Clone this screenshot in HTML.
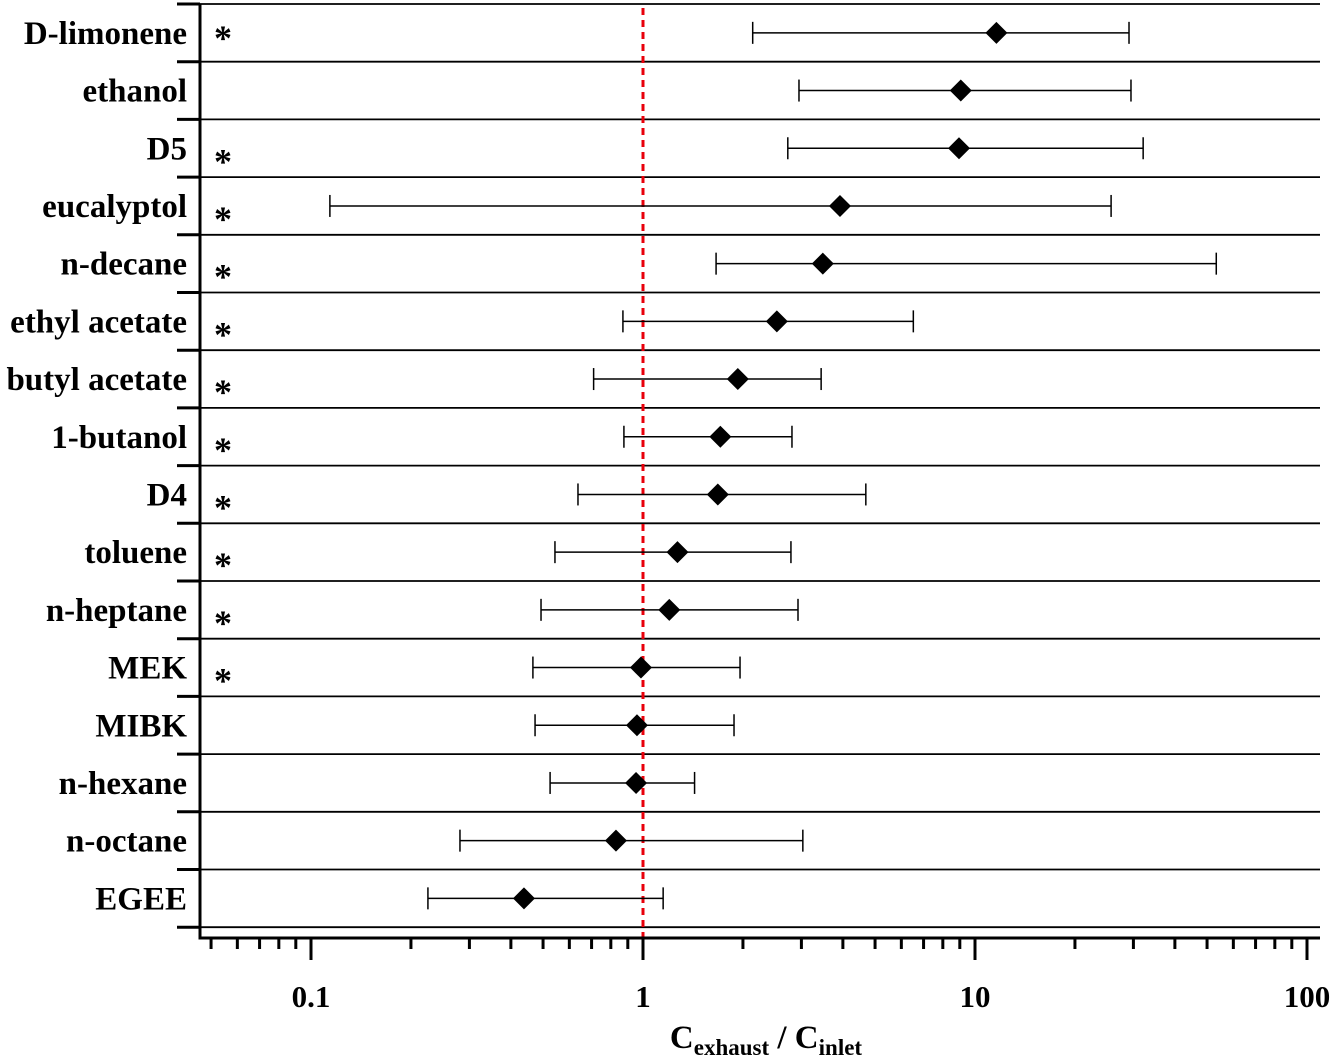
<!DOCTYPE html>
<html><head><meta charset="utf-8"><style>
html,body{margin:0;padding:0;background:#fff;}
svg{display:block;font-family:"Liberation Serif",serif;font-weight:bold;}
</style></head><body>
<svg id="chart" width="1335" height="1059" viewBox="0 0 1335 1059" xmlns="http://www.w3.org/2000/svg">
<g id="grid"></g><g id="marks"></g><g id="axes"></g>
<text x="766" y="1048" text-anchor="middle" font-size="33">C<tspan font-size="23" dy="7">exhaust</tspan><tspan dy="-7"> / C</tspan><tspan font-size="23" dy="7">inlet</tspan></text>
</svg>
<script>
const compounds=["D-limonene","ethanol","D5","eucalyptol","n-decane","ethyl acetate","butyl acetate","1-butanol","D4","toluene","n-heptane","MEK","MIBK","n-hexane","n-octane","EGEE"];
const centers=[11.6,9.06,8.95,3.92,3.48,2.53,1.93,1.71,1.68,1.27,1.20,0.986,0.959,0.953,0.829,0.438];
const lows=[2.14,2.95,2.73,0.114,1.66,0.87,0.71,0.876,0.637,0.543,0.493,0.466,0.473,0.525,0.281,0.225];
const highs=[29.1,29.5,32.1,25.7,53.3,6.52,3.44,2.81,4.69,2.79,2.93,1.96,1.88,1.43,3.03,1.15];
const significant=[1,0,1,1,1,1,1,1,1,1,1,1,0,0,0,0];
const tickLabels=["0.1","1","10","100"];
const tickValues=[0.1,1,10,100];
const NS="http://www.w3.org/2000/svg";
const X0=200,X1=1320,TOP=4,ROWH=57.7,AXY=938;
function xs(v){return 643+332*Math.log10(v);}
function ys(i){return TOP+ROWH*(i+0.5);}
function mk(tag,attrs,parent){const e=document.createElementNS(NS,tag);for(const k in attrs)e.setAttribute(k,attrs[k]);parent.appendChild(e);return e;}
const grid=document.getElementById('grid'),marks=document.getElementById('marks'),axes=document.getElementById('axes');
for(let i=0;i<=compounds.length;i++){
  const y=TOP+ROWH*i;
  const l=mk('line',{x1:X0,x2:X1,y1:y,y2:y,stroke:'#000','stroke-width':1.8},grid);
  
  
  const t=mk('line',{x1:177,x2:X0,y1:y,y2:y,stroke:'#000','stroke-width':3},axes);
  
  
}
const ref=mk('line',{x1:xs(1),x2:xs(1),y1:TOP+4,y2:AXY,stroke:'#e8000b','stroke-width':3,'stroke-dasharray':'7,5'},grid);


compounds.forEach((c,i)=>{
  const y=ys(i);
  const lab=mk('text',{x:187,y:y+11,'text-anchor':'end','font-size':33},axes);
  lab.textContent=c;
  
  
  if(significant[i]){
    const a=mk('text',{x:223,y:(i===0?y+17:y+25),'text-anchor':'middle','font-size':36},axes);
    a.textContent='*';
    
    
  }
  const e=mk('line',{x1:xs(lows[i]),x2:xs(highs[i]),y1:y,y2:y,stroke:'#000','stroke-width':1.5},marks);
  
  
  [lows[i],highs[i]].forEach(v=>{
    const cap=mk('line',{x1:xs(v),x2:xs(v),y1:y-11,y2:y+11,stroke:'#000','stroke-width':1.5},marks);
    
    
  });
  const cx=xs(centers[i]);
  const d=mk('polygon',{points:`${cx},${y-11} ${cx+11},${y} ${cx},${y+11} ${cx-11},${y}`,fill:'#000'},marks);
  
  
});
const ya=mk('line',{x1:X0,x2:X0,y1:TOP,y2:AXY+1.5,stroke:'#000','stroke-width':3},axes);


const xa=mk('line',{x1:X0-1.5,x2:X1,y1:AXY,y2:AXY,stroke:'#000','stroke-width':3},axes);


for(let dec=-2;dec<=2;dec++){
  for(let m=1;m<10;m++){
    const v=m*Math.pow(10,dec);const x=xs(v);
    if(x<X0+3||x>X1)continue;
    const major=(m===1);
    const t=mk('line',{x1:x,x2:x,y1:AXY,y2:AXY+(major?22:11),stroke:'#000','stroke-width':3},axes);
    
    
  }
}
tickValues.forEach((v,i)=>{
  const t=mk('text',{x:xs(v),y:1007,'text-anchor':'middle','font-size':31},axes);
  t.textContent=tickLabels[i];
  
  
});
</script>
</body></html>
